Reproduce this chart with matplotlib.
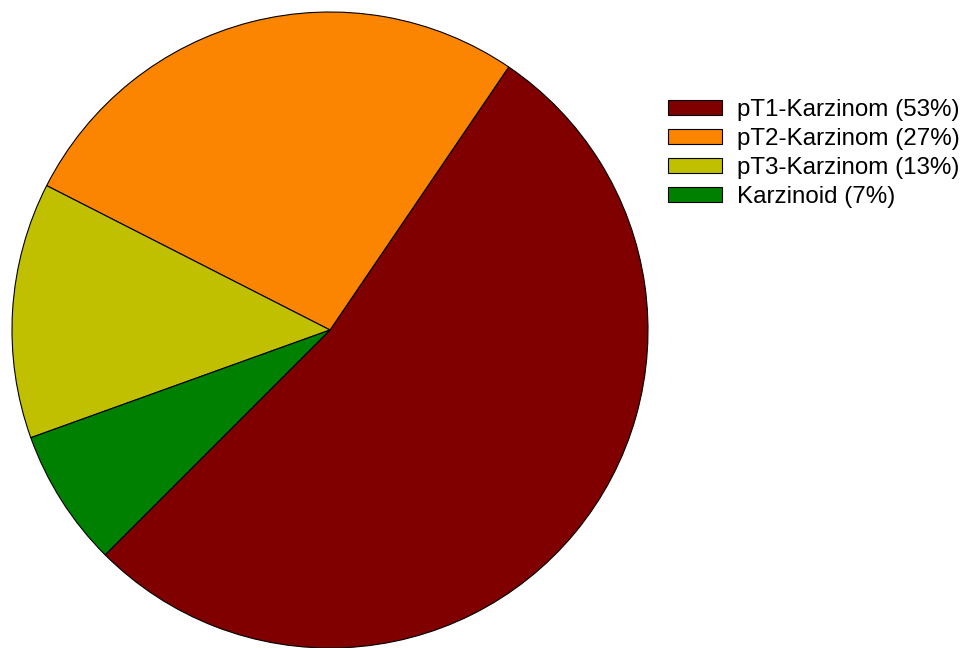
import matplotlib
matplotlib.use('agg')
import matplotlib.pyplot as plt

labels = ["pT1-Karzinom (53%)", "pT2-Karzinom (27%)", "pT3-Karzinom (13%)", "Karzinoid (7%)"]
values = [53, 27, 13, 7]
colors = ["#800000", "#fb8500", "#c0c000", "#008000"]

plt.rcParams['font.family'] = ['Liberation Sans', 'DejaVu Sans']

fig = plt.figure(figsize=(9.64, 6.48), dpi=100)
ax = fig.add_axes([12 / 964, 0, 636 / 964, 636 / 648])

wedges, _ = ax.pie(
    values,
    colors=colors,
    startangle=225,
    counterclock=True,
    wedgeprops={'edgecolor': 'black', 'linewidth': 0.8},
)
ax.set_xlim(-1, 1)
ax.set_ylim(-1, 1)
ax.set_aspect('equal')
ax.axis('off')

fig.legend(
    wedges, labels,
    loc='upper left',
    bbox_to_anchor=(668 / 964, 1 - 99 / 648),
    frameon=False,
    fontsize=17.4,
    borderpad=0,
    borderaxespad=0,
    handlelength=2.23,
    handleheight=0.58,
    handletextpad=0.62,
    labelspacing=0.29,
)

fig.savefig("out.png", dpi=100)
plt.close(fig)
